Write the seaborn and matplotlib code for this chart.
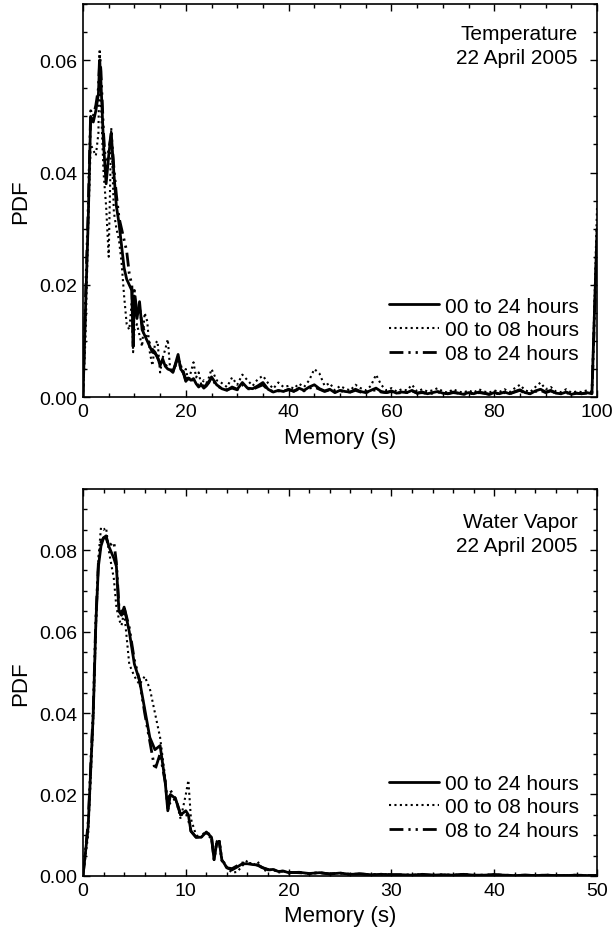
import numpy as np
import pandas as pd
import matplotlib
matplotlib.use("Agg")
import matplotlib.pyplot as plt
from matplotlib.ticker import MultipleLocator, FormatStrFormatter
import seaborn as sns

# ---------------- data: top panel (Temperature) ----------------
temp_x = ([0, 0.5, 1, 1.5, 2, 2.5, 3, 3.25, 3.5, 4, 4.5, 5, 5.5, 6, 6.5, 7, 7.5, 8, 8.5, 9, 9.5, 9.75, 10]
          + [10.5, 11, 11.5, 12, 12.5, 13, 13.5, 14, 14.5, 15, 15.5, 16, 16.5, 17, 17.5, 18, 18.5, 19, 19.5,
             20, 20.5, 21, 21.5, 22, 22.5, 23, 23.5, 24, 24.5, 25]
          + list(range(26, 101)))

temp_all = ([0, 0.016, 0.031, 0.050, 0.049, 0.051, 0.054, 0.060, 0.056, 0.045, 0.038, 0.043, 0.047, 0.040,
             0.034, 0.031, 0.027, 0.023, 0.021, 0.020, 0.019, 0.009, 0.018]
            + [0.014, 0.017, 0.012, 0.011, 0.010, 0.009, 0.008, 0.0078, 0.0072, 0.0056, 0.0068, 0.0055, 0.005,
               0.0048, 0.0044, 0.006, 0.0076, 0.005, 0.0044, 0.0028, 0.0034, 0.0030, 0.0033, 0.0024, 0.0018,
               0.0022, 0.0016, 0.0020, 0.0026, 0.0036]
            + [0.0022, 0.0015, 0.0012, 0.0018, 0.0014, 0.0026, 0.0016, 0.0015, 0.0020, 0.0026, 0.0014, 0.0009,
               0.0012, 0.0010, 0.0014, 0.0010, 0.0016, 0.0012, 0.0018, 0.0022, 0.0015, 0.0011, 0.0014, 0.0008,
               0.0012, 0.0010, 0.0009, 0.0014, 0.0010, 0.0008, 0.0012, 0.0016, 0.0010, 0.0008, 0.0011, 0.0007,
               0.0009, 0.0008, 0.0012, 0.0007, 0.0009, 0.0006, 0.0008, 0.0010, 0.0007, 0.0006, 0.0009, 0.0007,
               0.0005, 0.0008, 0.0006, 0.0009, 0.0007, 0.0005, 0.0008, 0.0006, 0.0009, 0.0006, 0.0010, 0.0013,
               0.0008, 0.0006, 0.0011, 0.0014, 0.0009, 0.0012, 0.0007, 0.0006, 0.0009, 0.0005, 0.0007, 0.0006,
               0.0008, 0.0006, 0.030])

temp_night = ([0, 0.011, 0.030, 0.045, 0.044, 0.043, 0.047, 0.062, 0.052, 0.040, 0.034, 0.025, 0.048, 0.033,
               0.030, 0.028, 0.024, 0.018, 0.013, 0.012, 0.017, 0.008, 0.012]
              + [0.013, 0.011, 0.009, 0.015, 0.0135, 0.008, 0.0056, 0.0095, 0.010, 0.0044, 0.007, 0.0085, 0.0103,
                 0.0044, 0.005, 0.0055, 0.0068, 0.006, 0.0038, 0.005, 0.0028, 0.0045, 0.0062, 0.0035, 0.0044,
                 0.0022, 0.0030, 0.0025, 0.0035, 0.005]
              + [0.0030, 0.0025, 0.0018, 0.0035, 0.0022, 0.0040, 0.0030, 0.0020, 0.0032, 0.0038, 0.0025, 0.0015,
                 0.0026, 0.0018, 0.0020, 0.0015, 0.0024, 0.0018, 0.0030, 0.0050, 0.0042, 0.0020, 0.0025, 0.0012,
                 0.0020, 0.0015, 0.0012, 0.0022, 0.0016, 0.0012, 0.0020, 0.0040, 0.0022, 0.0012, 0.0016, 0.0010,
                 0.0014, 0.0012, 0.0022, 0.0010, 0.0014, 0.0010, 0.0012, 0.0016, 0.0010, 0.0008, 0.0014, 0.0010,
                 0.0008, 0.0012, 0.0008, 0.0014, 0.0010, 0.0008, 0.0012, 0.0009, 0.0014, 0.0009, 0.0016, 0.0022,
                 0.0012, 0.0009, 0.0018, 0.0026, 0.0014, 0.0018, 0.0010, 0.0009, 0.0014, 0.0008, 0.0010, 0.0009,
                 0.0012, 0.0009, 0.034])

temp_day = ([0, 0.018, 0.033, 0.051, 0.050, 0.052, 0.055, 0.061, 0.058, 0.047, 0.040, 0.044, 0.047, 0.041,
             0.036, 0.032, 0.030, 0.028, 0.026, 0.022, 0.020, 0.011, 0.019]
            + [0.015, 0.016, 0.013, 0.0115, 0.0105, 0.0095, 0.0085, 0.008, 0.007, 0.006, 0.0065, 0.0058, 0.0052,
               0.005, 0.0046, 0.0058, 0.0072, 0.0052, 0.0046, 0.003, 0.0036, 0.0032, 0.003, 0.0026, 0.002,
               0.0024, 0.0018, 0.0022, 0.0028, 0.0034]
            + [0.0020, 0.0016, 0.0013, 0.0016, 0.0013, 0.0022, 0.0015, 0.0014, 0.0018, 0.0022, 0.0013, 0.0010,
               0.0011, 0.0011, 0.0013, 0.0011, 0.0014, 0.0011, 0.0016, 0.0018, 0.0014, 0.0010, 0.0013, 0.0009,
               0.0011, 0.0010, 0.0009, 0.0012, 0.0009, 0.0008, 0.0011, 0.0013, 0.0009, 0.0008, 0.0010, 0.0007,
               0.0008, 0.0008, 0.0011, 0.0007, 0.0008, 0.0006, 0.0007, 0.0009, 0.0007, 0.0006, 0.0008, 0.0007,
               0.0005, 0.0007, 0.0006, 0.0008, 0.0007, 0.0005, 0.0007, 0.0006, 0.0008, 0.0006, 0.0009, 0.0012,
               0.0007, 0.0006, 0.0010, 0.0012, 0.0008, 0.0011, 0.0007, 0.0006, 0.0008, 0.0005, 0.0007, 0.0006,
               0.0007, 0.0006, 0.028])

# ---------------- data: bottom panel (Water Vapor) ----------------
wv_x = ([0, 0.5, 1, 1.25, 1.5, 1.75, 2, 2.25, 2.5, 3, 3.25, 3.5, 3.75, 4, 4.5, 5, 5.5, 6, 6.5, 7, 7.5, 8,
         8.25, 8.5, 9, 9.5, 10, 10.25, 10.5, 11, 11.5, 12, 12.5, 12.75, 13, 13.25, 13.5, 14, 14.5, 15, 15.5,
         16, 16.5, 17, 17.5, 18, 18.5, 19, 19.5, 20]
        + list(range(21, 51)))

wv_all = ([0, 0.012, 0.040, 0.062, 0.076, 0.081, 0.083, 0.0835, 0.081, 0.078, 0.076, 0.065, 0.064, 0.066,
           0.060, 0.052, 0.048, 0.041, 0.034, 0.031, 0.032, 0.023, 0.016, 0.020, 0.019, 0.015, 0.016, 0.015,
           0.011, 0.0095, 0.0095, 0.0108, 0.0095, 0.004, 0.008, 0.0085, 0.004, 0.002, 0.0015, 0.0022, 0.003,
           0.003, 0.0028, 0.0027, 0.002, 0.0015, 0.0016, 0.0011, 0.0012, 0.0008]
          + [0.0009, 0.0006, 0.0008, 0.0005, 0.0007, 0.0004, 0.0005, 0.0003, 0.0004, 0.0003, 0.0003, 0.0002,
             0.0004, 0.0002, 0.0003, 0.0002, 0.0004, 0.0002, 0.0002, 0.0003, 0.0002, 0.0001, 0.0002, 0.0001,
             0.0002, 0.0001, 0.0001, 0.0002, 0.0001, 0.0001])

wv_night = ([0, 0.010, 0.038, 0.060, 0.078, 0.0855, 0.085, 0.0855, 0.080, 0.073, 0.066, 0.063, 0.0615, 0.065,
             0.052, 0.049, 0.047, 0.049, 0.046, 0.040, 0.034, 0.024, 0.016, 0.018, 0.019, 0.014, 0.020, 0.0235,
             0.014, 0.010, 0.0095, 0.0105, 0.009, 0.0045, 0.0085, 0.009, 0.0045, 0.002, 0.0008, 0.001, 0.0025,
             0.0038, 0.0025, 0.0035, 0.0015, 0.0012, 0.0018, 0.0008, 0.0012, 0.0006]
            + [0.0010, 0.0005, 0.0009, 0.0004, 0.0008, 0.0003, 0.0006, 0.0002, 0.0005, 0.0003, 0.0002, 0.0003,
               0.0004, 0.0001, 0.0003, 0.0002, 0.0005, 0.0001, 0.0002, 0.0004, 0.0001, 0.0001, 0.0002, 0.0001,
               0.0003, 0.0001, 0.0001, 0.0002, 0.0001, 0.0001])

wv_day = ([0, 0.013, 0.041, 0.063, 0.077, 0.082, 0.083, 0.083, 0.081, 0.082, 0.077, 0.066, 0.065, 0.066,
           0.061, 0.053, 0.048, 0.040, 0.033, 0.026, 0.030, 0.023, 0.017, 0.021, 0.019, 0.015, 0.0155, 0.014,
           0.011, 0.0095, 0.0097, 0.011, 0.0095, 0.004, 0.008, 0.0085, 0.0038, 0.002, 0.0018, 0.0025, 0.0032,
           0.0031, 0.003, 0.0026, 0.002, 0.0016, 0.0015, 0.0011, 0.0012, 0.0009]
          + [0.0008, 0.0006, 0.0008, 0.0005, 0.0007, 0.0004, 0.0005, 0.0003, 0.0004, 0.0003, 0.0003, 0.0002,
             0.0003, 0.0002, 0.0003, 0.0002, 0.0003, 0.0002, 0.0002, 0.0003, 0.0002, 0.0001, 0.0002, 0.0001,
             0.0002, 0.0001, 0.0001, 0.0002, 0.0001, 0.0001])

series_labels = ["00 to 24 hours", "00 to 08 hours", "08 to 24 hours"]
panel_titles = ["Temperature\n22 April 2005", "Water Vapor\n22 April 2005"]
x_label = "Memory (s)"
y_label = "PDF"

# ---------------- style ----------------
sns.set_style("ticks")
plt.rcParams["font.family"] = ["Liberation Sans", "DejaVu Sans"]
plt.rcParams["font.size"] = 14
plt.rcParams["text.color"] = "black"
plt.rcParams["axes.labelcolor"] = "black"

fig = plt.figure(figsize=(6.12, 9.28), dpi=100)
ax_top = fig.add_axes([0.1356, 0.571, 0.840, 0.4235])
ax_bot = fig.add_axes([0.1356, 0.055, 0.840, 0.417])

styles = [dict(linestyle="-", lw=2.0),
          dict(linestyle=(0, (1, 1.6)), lw=1.5),
          dict(linestyle=(0, (5, 1.8, 0.8, 1.8, 0.8, 1.8)), lw=2.0)]


def draw(ax, x, ys, xlim, ylim, xmaj, xmin, ymaj, ymin, title, leg_y, title_y):
    for y, lab, st in zip(ys, series_labels, styles):
        df = pd.DataFrame({"x": x, "y": y})
        sns.lineplot(data=df, x="x", y="y", ax=ax, color="black", label=lab,
                     linestyle=st["linestyle"], lw=st["lw"], sort=False)
    ax.set_xlim(*xlim)
    ax.set_ylim(*ylim)
    ax.xaxis.set_major_locator(MultipleLocator(xmaj))
    ax.xaxis.set_minor_locator(MultipleLocator(xmin))
    ax.yaxis.set_major_locator(MultipleLocator(ymaj))
    ax.yaxis.set_minor_locator(MultipleLocator(ymin))
    ax.yaxis.set_major_formatter(FormatStrFormatter("%.2f"))
    ax.tick_params(which="both", direction="in", top=True, right=True, colors="black",
                   labelsize=14, width=1.0)
    ax.tick_params(which="major", length=5, pad=4)
    ax.tick_params(which="minor", length=3)
    for s in ax.spines.values():
        s.set_linewidth(1.2)
        s.set_color("black")
    ax.set_xlabel(x_label, fontsize=16, labelpad=5, color="black")
    ax.set_ylabel(y_label, fontsize=16, labelpad=6, color="black")
    ax.text(0.962, title_y, title, transform=ax.transAxes, ha="right", va="top",
            fontsize=15, linespacing=1.35, color="black")
    leg = ax.legend(loc="lower right", bbox_to_anchor=(0.965, leg_y), frameon=False,
                    handlelength=2.4, handletextpad=0.3, labelspacing=0.22,
                    borderaxespad=0, borderpad=0, fontsize=15)
    for t in leg.get_texts():
        t.set_color("black")
    return leg


draw(ax_top, temp_x, [temp_all, temp_night, temp_day], (0, 100), (0, 0.07),
     20, 5, 0.02, 0.005, panel_titles[0], 0.087, 0.950)
draw(ax_bot, wv_x, [wv_all, wv_night, wv_day], (0, 50), (0, 0.095),
     10, 2, 0.02, 0.005, panel_titles[1], 0.093, 0.940)

fig.savefig("out.png", dpi=100)
